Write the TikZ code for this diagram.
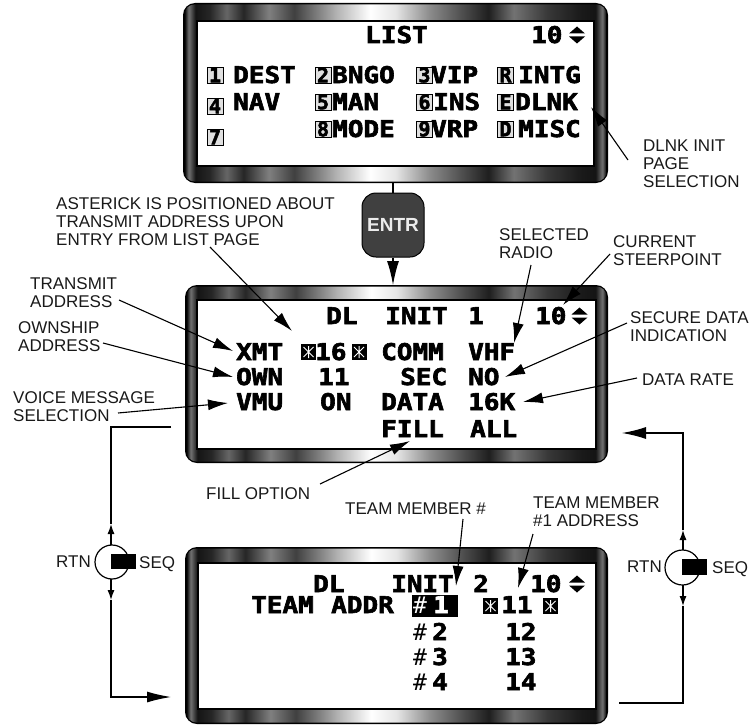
\documentclass[tikz,border=0pt]{standalone}
\usepackage{fontspec}
\setmainfont{Liberation Sans}
\newfontfamily\dispfont[FakeBold=2.5]{DejaVu Sans Mono Bold}
\newfontfamily\dispthin{DejaVu Sans Mono}
\usetikzlibrary{arrows.meta}
\pgfdeclarehorizontalshading{bezelshade}{100bp}{%
color(0bp)=(black);
color(25bp)=(black);
color(25.5bp)=(black!55);
color(26.3bp)=(black!92);
color(28bp)=(black!85);
color(30bp)=(black!60);
color(32bp)=(black!85);
color(35bp)=(black!50);
color(38bp)=(black!75);
color(43bp)=(black!30);
color(47bp)=(white);
color(50bp)=(black!10);
color(54bp)=(black!45);
color(58bp)=(black!70);
color(61bp)=(black!88);
color(64bp)=(black!55);
color(68bp)=(black!78);
color(72bp)=(black!90);
color(73.7bp)=(black!92);
color(74.5bp)=(black!55);
color(75bp)=(black);
color(100bp)=(black)}
\newcommand{\dsx}[1]{\scalebox{1.13}[1]{#1}}
\newcommand{\mybezel}[4]{%
  \fill[black, rounded corners=12pt] (#1,#2) rectangle (#3,#4);
  \shade[shading=bezelshade, rounded corners=10pt] (#1+1.5,#2+1.5) rectangle (#3-1.5,#4-1.5);
}
\tikzset{
  dsp/.style={anchor=base west, inner sep=0pt, font=\dispfont\fontsize{23}{23}\selectfont},
  thin/.style={anchor=base west, inner sep=0pt, font=\dispthin\fontsize{23}{23}\selectfont},
  lbx/.style={draw=black, line width=1pt, fill=black!12, minimum width=16pt, minimum height=16pt, inner sep=0pt, font=\dispfont\fontsize{20}{20}\selectfont},
  lab/.style={anchor=north west, inner sep=0pt, align=left, font=\fontsize{17}{18}\selectfont, text=black!90},
  callout/.style={draw=black, line width=1.1pt, -{Latex[length=20pt,width=11pt]}},
  flow/.style={draw=black, line width=1.2pt},
  small/.style={draw=black, line width=1.2pt, -{Latex[length=10pt,width=7pt]}},
  astbox/.pic={\fill[black] (-7.5,-8) rectangle (7.5,8);
    \draw[white, line width=1pt] (0,-6) -- (0,6) (-5,-5) -- (5,5) (-5,5) -- (5,-5);},
  updn/.pic={\fill[black] (-8,-1.5) -- (8,-1.5) -- (0,-8.5) -- cycle;
    \fill[black] (-8,1.5) -- (8,1.5) -- (0,8.5) -- cycle;}
}
\begin{document}
\begin{tikzpicture}[x=1pt,y=-1pt]
\useasboundingbox (0,0) rectangle (754,725);
% ---------- bezels ----------
\mybezel{183}{3}{608}{183}
\draw[fill=white,line width=1.2pt] (197,21) rectangle (594,166);
\mybezel{185}{285}{608}{463}
\draw[fill=white,line width=1.2pt] (197,300) rectangle (596,449);
\mybezel{185}{547}{608}{724}
\draw[fill=white,line width=1.2pt] (198,563) rectangle (596,709);
% ---------- LIST page ----------
\node[dsp] (tlist) at (365,43) {\dsx{LIST}};
\node[dsp] (t10a) at (531,43) {\dsx{10}};
\pic at (577,35) {updn};
\node[lbx] (k1) at (215,75) {1};
\node[dsp] (tdest) at (233,83) {\dsx{DEST}};
\node[lbx] (k2) at (323,75) {2};
\node[dsp] (tbngo) at (332,83) {\dsx{BNGO}};
\node[lbx] (k3) at (424.5,75) {3};
\node[dsp] (tvip) at (431,83) {\dsx{VIP}};
\node[lbx] (kr) at (505.5,75) {R};
\node[dsp] (tintg) at (518,83) {\dsx{INTG}};
\node[lbx] (k4) at (215,106) {4};
\node[dsp] (tnav) at (233,110) {\dsx{NAV}};
\node[lbx] (k5) at (323,102) {5};
\node[dsp] (tman) at (332,110) {\dsx{MAN}};
\node[lbx] (k6) at (424.5,102) {6};
\node[dsp] (tins) at (433,110) {\dsx{INS}};
\node[lbx] (ke) at (505.5,102) {E};
\node[dsp] (tdlnk) at (515,110) {\dsx{DLNK}};
\node[lbx] (k7) at (215,137) {7};
\node[lbx] (k8) at (323,129) {8};
\node[dsp] (tmode) at (332,137) {\dsx{MODE}};
\node[lbx] (k9) at (424.5,129) {9};
\node[dsp] (tvrp) at (431,137) {\dsx{VRP}};
\node[lbx] (kd) at (505.5,129) {D};
\node[dsp] (tmisc) at (518,137) {\dsx{MISC}};
% ---------- DL INIT 1 ----------
\node[dsp] (m1) at (326,324) {\dsx{DL}};
\node[dsp] (m2) at (385,324) {\dsx{INIT}};
\node[dsp] (m3) at (468,324) {\dsx{1}};
\node[dsp] (m4) at (535,324) {\dsx{10}};
\pic at (579.5,316) {updn};
\node[dsp] (mxmt) at (236,360) {\dsx{XMT}};
\pic at (308.5,352) {astbox};
\node[dsp] (m16) at (315,360) {\dsx{16}};
\pic at (359,352) {astbox};
\node[dsp] (mcomm) at (381,360) {\dsx{COMM}};
\node[dsp] (mvhf) at (468,360) {\dsx{VHF}};
\node[dsp] (mown) at (236,385) {\dsx{OWN}};
\node[dsp] (m11) at (318,385) {\dsx{11}};
\node[dsp] (msec) at (400,385) {\dsx{SEC}};
\node[dsp] (mno) at (468,385) {\dsx{NO}};
\node[dsp] (mvmu) at (236,410) {\dsx{VMU}};
\node[dsp] (mon) at (320,410) {\dsx{ON}};
\node[dsp] (mdata) at (381,410) {\dsx{DATA}};
\node[dsp] (m16k) at (468,410) {\dsx{16K}};
\node[dsp] (mfill) at (381,437) {\dsx{FILL}};
\node[dsp] (mall) at (470,437) {\dsx{ALL}};
% ---------- DL INIT 2 ----------
\node[dsp] (b1) at (313,592) {\dsx{DL}};
\node[dsp] (b2) at (391,592) {\dsx{INIT}};
\node[dsp] (b3) at (473,592) {\dsx{2}};
\node[dsp] (b4) at (530,592) {\dsx{10}};
\pic at (577,584) {updn};
\node[dsp] (bteam) at (251,613) {\dsx{TEAM}};
\node[dsp] (baddr) at (331,613) {\dsx{ADDR}};
\node[fill=black, minimum width=46pt, minimum height=22pt, inner sep=0pt] (hl) at (435,606) {};
\node[thin, text=white] (bh1) at (413,613) {\#};
\node[dsp, text=white] (bn1) at (433,613) {\dsx{1}};
\pic at (490.5,606) {astbox};
\node[dsp] (ba1) at (501,613) {\dsx{11}};
\pic at (550.5,606) {astbox};
\node[thin] (bh2) at (413,640) {\#};
\node[dsp] (bn2) at (432,640) {\dsx{2}};
\node[dsp] (ba2) at (505,640) {\dsx{12}};
\node[thin] (bh3) at (413,665) {\#};
\node[dsp] (bn3) at (432,665) {\dsx{3}};
\node[dsp] (ba3) at (505,665) {\dsx{13}};
\node[thin] (bh4) at (413,690) {\#};
\node[dsp] (bn4) at (432,690) {\dsx{4}};
\node[dsp] (ba4) at (505,690) {\dsx{14}};
% ---------- ENTR ----------
\node[draw=black, line width=1pt, fill=black!75, rounded corners=14pt, minimum width=62pt, minimum height=64pt, inner sep=0pt, text=black!8, font=\bfseries\fontsize{19}{19}\selectfont] (entr) at (393,225) {ENTR};
\coordinate (d1s) at (393,183);
\coordinate (d2n) at (393,285);
\draw[flow] (d1s) -- (entr.north);
\draw[flow, -{Latex[length=24pt,width=12pt]}] (entr.south) -- (d2n);
% ---------- labels ----------
\node[lab] (lAst) at (56,197) {ASTERICK IS POSITIONED ABOUT\\TRANSMIT ADDRESS UPON\\ENTRY FROM LIST PAGE};
\node[lab] (lXmt) at (30,277) {TRANSMIT\\ADDRESS};
\node[lab] (lOwn) at (18,321) {OWNSHIP\\ADDRESS};
\node[lab] (lVmu) at (13,391) {VOICE MESSAGE\\SELECTION};
\node[lab] (lDlnk) at (643,140) {DLNK INIT\\PAGE\\SELECTION};
\node[lab] (lRadio) at (499,228) {SELECTED\\RADIO};
\node[lab] (lStpt) at (613,235) {CURRENT\\STEERPOINT};
\node[lab] (lSec) at (630,311) {SECURE DATA\\INDICATION};
\node[lab] (lRate) at (642,374) {DATA RATE};
\node[lab] (lFill) at (206,487) {FILL OPTION};
\node[lab] (lTm) at (345,503) {TEAM MEMBER \#};
\node[lab] (lTmA) at (533,497) {TEAM MEMBER\\\#1 ADDRESS};
\node[lab] (lRtn1) at (56,556) {RTN};
\node[lab] (lSeq1) at (139,556) {SEQ};
\node[lab] (lRtn2) at (627,561) {RTN};
\node[lab] (lSeq2) at (712,561) {SEQ};
% ---------- callouts ----------
\coordinate (c1t) at (210,247);  \coordinate (c1h) at (292,331);
\coordinate (c2t) at (119,300);  \coordinate (c2h) at (233,351);
\coordinate (c3t) at (103,343);  \coordinate (c3h) at (233,377);
\coordinate (c4t) at (118,413);  \coordinate (c4h) at (228,403);
\coordinate (c5t) at (531,265);  \coordinate (c5h) at (514,343);
\coordinate (c6t) at (610,254);  \coordinate (c6h) at (563,305);
\coordinate (c7t) at (627,323);  \coordinate (c7h) at (505,377);
\coordinate (c8t) at (637,378);  \coordinate (c8h) at (523,402);
\coordinate (c9t) at (320,484);  \coordinate (c9h) at (410,441);
\coordinate (c10t) at (463,519); \coordinate (c10h) at (456,586);
\coordinate (c11t) at (533,534); \coordinate (c11h) at (518,588);
\coordinate (c12t) at (628,160); \coordinate (c12h) at (591,107);
\foreach \i in {1,...,12} {\draw[callout] (c\i t) -- (c\i h);}
% ---------- left switch flow ----------
\coordinate (f1a) at (171,427); \coordinate (f1b) at (111,427);
\coordinate (s1u0) at (111,545); \coordinate (s1u1) at (111,524);
\coordinate (s1d0) at (111,579); \coordinate (s1d1) at (111,600);
\coordinate (f1d) at (111,697); \coordinate (f1e) at (171,697);
\draw[flow] (f1a) -- (f1b) -- (s1u1);
\draw[small] (s1u0) -- (s1u1);
\draw[small] (s1d0) -- (s1d1);
\draw[flow, -{Latex[length=24pt,width=11pt]}] (s1d1) -- (f1d) -- (f1e);
\draw[line width=1.2pt] (112,562) circle[radius=17pt];
\fill[black] (111,554) rectangle (136,569);
% ---------- right switch flow ----------
\coordinate (f2a) at (619,703); \coordinate (f2b) at (683,703);
\coordinate (s2d0) at (683,585); \coordinate (s2d1) at (683,606);
\coordinate (s2u0) at (683,550); \coordinate (s2u1) at (683,530);
\coordinate (f2c) at (683,433); \coordinate (f2d) at (622,433);
\draw[flow] (f2a) -- (f2b) -- (s2d1);
\draw[small] (s2u0) -- (s2u1);
\draw[small] (s2d0) -- (s2d1);
\draw[flow, -{Latex[length=24pt,width=12pt]}] (s2u1) -- (f2c) -- (f2d);
\draw[line width=1.2pt] (682.5,567.5) circle[radius=17.5pt];
\fill[black] (682,559) rectangle (707,575);
\end{tikzpicture}
\end{document}
